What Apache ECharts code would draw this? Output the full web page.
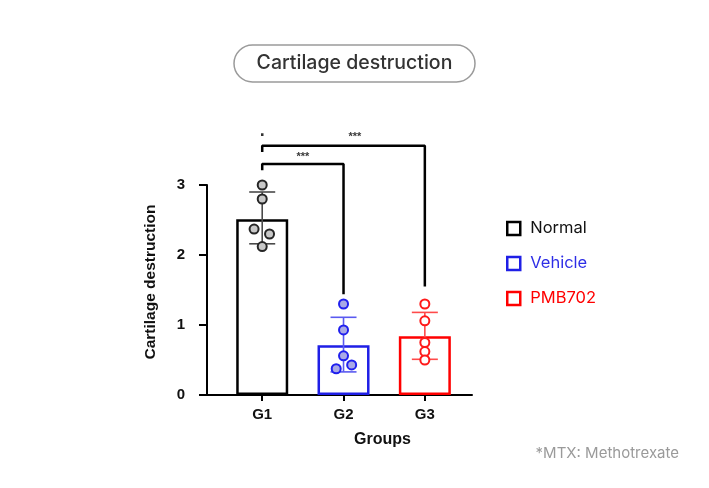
<!DOCTYPE html>
<html>
<head>
<meta charset="utf-8">
<script src="https://cdn.jsdelivr.net/npm/echarts@6/dist/echarts.min.js"></script>
<style>
html,body{margin:0;padding:0;background:#fff;}
#chart{width:709px;height:488px;}
</style>
</head>
<body>
<div id="chart"></div>
<script>
// ---- data ----
const categories = ['G1', 'G2', 'G3'];
const groupNames = ['Normal', 'Vehicle', 'PMB702'];
const means = [2.51, 0.71, 0.84];
const errLow = [2.16, 0.33, 0.51];
const errHigh = [2.90, 1.11, 1.18];
const pointsG1 = [3.00, 2.80, 2.37, 2.30, 2.12];
const pointsG2 = [1.30, 0.93, 0.56, 0.43, 0.375];
const pointsG3 = [1.30, 1.06, 0.75, 0.62, 0.50];
const jitterG1 = [0, 0, -0.10, 0.09, 0];
const jitterG2 = [0, 0, 0, 0.10, -0.09];
const jitterG3 = [0, 0, 0, 0, 0];
// significance brackets: [fromGroup, toGroup, barY, leftEndY, rightEndY]
const bracketA = [1, 2, 3.30, 3.21, 1.44];
const bracketB = [1, 3, 3.56, 3.47, 1.55];
const sigLabels = [['***', 1.50, 3.40, 11], ['***', 2.14, 3.69, 11], ['.', 1.0, 3.77, 18]];

// ---- styles ----
const colors = ['#000000', '#1f1fe6', '#ff0000'];
const errColors = ['#4a4a4a', '#5a5af0', '#ff4a4a'];
const dotFill = ['#c8c8c8', '#a9a9e6', '#ffffff'];
const dotBorder = ['#262626', '#2020ee', '#ff1a1a'];
const legendText = ['#111111', '#2e2ee6', '#ff0000'];
const axisFont = 'Liberation Sans, Arial, sans-serif';
const uiFont = 'Inter, Lato, sans-serif';

const pointSets = [pointsG1, pointsG2, pointsG3];
const jitters = [jitterG1, jitterG2, jitterG3];

const series = [];
groupNames.forEach((name, i) => {
  series.push({
    name: name,
    type: 'bar',
    barWidth: 52,
    barGap: '-100%',
    z: 2,
    data: [[i + 1, means[i]]],
    itemStyle: { color: '#ffffff', borderColor: colors[i], borderWidth: 2.5 }
  });
});
series.push({
  type: 'custom',
  z: 3,
  silent: true,
  data: categories.map((c, i) => [i + 1, errLow[i], errHigh[i]]),
  renderItem: function (params, api) {
    const x = api.value(0);
    const top = api.coord([x, api.value(2)]);
    const bot = api.coord([x, api.value(1)]);
    const hw = 13;
    const st = { stroke: errColors[params.dataIndex], lineWidth: 1.6 };
    return {
      type: 'group',
      children: [
        { type: 'line', shape: { x1: top[0], y1: top[1], x2: bot[0], y2: bot[1] }, style: st },
        { type: 'line', shape: { x1: top[0] - hw, y1: top[1], x2: top[0] + hw, y2: top[1] }, style: st },
        { type: 'line', shape: { x1: bot[0] - hw, y1: bot[1], x2: bot[0] + hw, y2: bot[1] }, style: st }
      ]
    };
  }
});
pointSets.forEach((pts, i) => {
  series.push({
    type: 'scatter',
    z: 4,
    silent: true,
    symbolSize: 9,
    data: pts.map((v, k) => [i + 1 + jitters[i][k], v]),
    itemStyle: { color: dotFill[i], borderColor: dotBorder[i], borderWidth: 2, opacity: 1 }
  });
});
[bracketA, bracketB].forEach(b => {
  series.push({
    type: 'line',
    silent: true,
    clip: false,
    z: 5,
    symbol: 'none',
    data: [[b[0], b[3]], [b[0], b[2]], [b[1], b[2]], [b[1], b[4]]],
    lineStyle: { color: '#000', width: 2.5 }
  });
});
series.push({
  type: 'scatter',
  silent: true,
  clip: false,
  z: 6,
  symbolSize: 1,
  itemStyle: { color: 'rgba(0,0,0,0)' },
  data: sigLabels.map(s => ({ value: [s[1], s[2]], name: s[0], label: { fontSize: s[3] } })),
  label: {
    show: true,
    position: 'inside',
    formatter: p => p.name,
    color: '#000',
    fontFamily: axisFont,
    fontWeight: 'bold',
    fontSize: 11
  }
});

const chart = echarts.init(document.getElementById('chart'), null, { renderer: 'canvas' });
chart.setOption({
  animation: false,
  backgroundColor: '#ffffff',
  grid: { left: 207, right: 237, top: 185, bottom: 93, containLabel: false },
  xAxis: {
    type: 'value',
    min: 0.321,
    max: 3.58,
    name: 'Groups',
    nameLocation: 'middle',
    nameGap: 37,
    nameTextStyle: { fontFamily: axisFont, fontWeight: 'bold', fontSize: 16, color: '#111', padding: [0, 0, 0, 86] },
    splitLine: { show: false },
    axisLine: { show: true, lineStyle: { color: '#000', width: 2 } },
    axisTick: { show: true, customValues: [1, 2, 3], length: 6, lineStyle: { color: '#000', width: 2 } },
    axisLabel: {
      customValues: [1, 2, 3],
      formatter: v => categories[Math.round(v) - 1] || '',
      fontFamily: axisFont, fontWeight: 'bold', fontSize: 15, color: '#111', margin: 12
    }
  },
  yAxis: {
    type: 'value',
    min: 0,
    max: 3,
    interval: 1,
    name: 'Cartilage destruction',
    nameLocation: 'middle',
    nameGap: 48,
    nameTextStyle: { fontFamily: axisFont, fontWeight: 'bold', fontSize: 15.5, color: '#111', padding: [0, 0, 0, 16] },
    splitLine: { show: false },
    axisLine: { show: true, lineStyle: { color: '#000', width: 2 } },
    axisTick: { show: true, length: 8, lineStyle: { color: '#000', width: 2 } },
    axisLabel: { fontFamily: axisFont, fontWeight: 'bold', fontSize: 15, color: '#111', margin: 22 }
  },
  legend: {
    orient: 'vertical',
    left: 501,
    top: 215,
    itemWidth: 13,
    itemHeight: 13,
    itemGap: 18,
    icon: 'rect',
    selectedMode: false,
    data: groupNames.map((n, i) => ({
      name: n,
      itemStyle: { color: '#ffffff', borderColor: colors[i], borderWidth: 2.5 },
      textStyle: { color: legendText[i] }
    })),
    textStyle: { fontFamily: uiFont, fontSize: 16.5, padding: [0, 0, 0, 5] }
  },
  graphic: [
    {
      type: 'rect',
      shape: { x: 234, y: 45, width: 241, height: 37, r: 18.5 },
      style: { fill: '#ffffff', stroke: '#9a9a9a', lineWidth: 1.5 }
    },
    {
      type: 'text',
      x: 354.5,
      y: 63.5,
      style: { text: 'Cartilage destruction', fontFamily: uiFont, fontWeight: 500, fontSize: 19.5, fill: '#333', align: 'center', verticalAlign: 'middle' }
    },
    {
      type: 'text',
      x: 679,
      y: 453,
      style: { text: '*MTX: Methotrexate', fontFamily: uiFont, fontSize: 15, fill: '#9a9a9a', align: 'right', verticalAlign: 'middle' }
    }
  ],
  series: series
});
</script>
</body>
</html>
